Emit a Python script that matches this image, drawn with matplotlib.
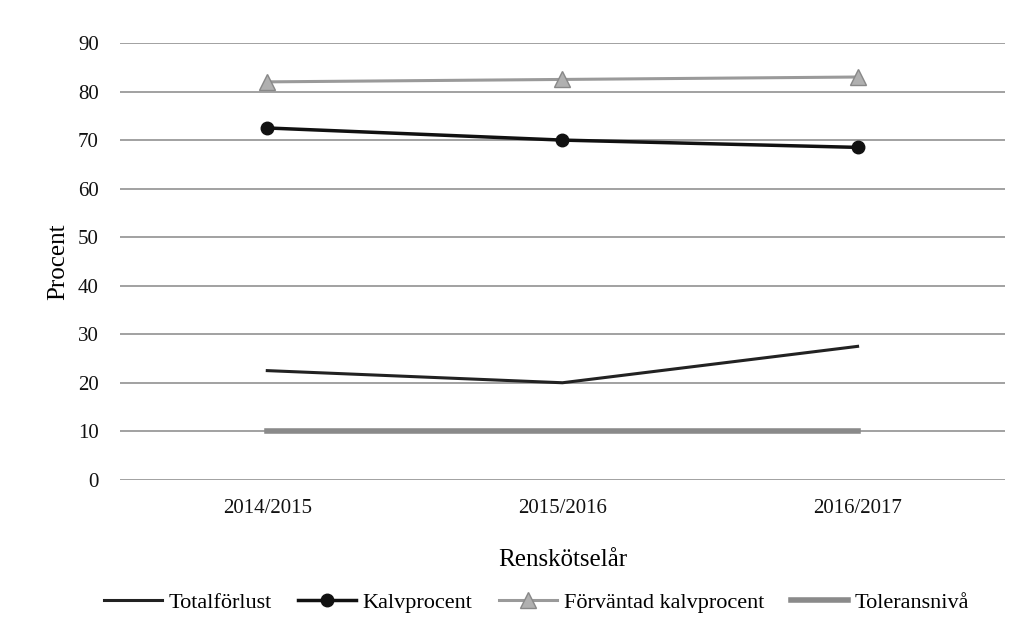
import matplotlib
matplotlib.use("Agg")
import matplotlib.pyplot as plt

plt.rcParams['font.family'] = ['Liberation Serif', 'DejaVu Serif']

years = ["2014/2015", "2015/2016", "2016/2017"]
totalforlust = [22.5, 20, 27.5]
kalvprocent = [72.5, 70, 68.5]
forvantad = [82, 82.5, 83]
tolerans = [10, 10, 10]

fig = plt.figure(figsize=(10.32, 6.33), dpi=100)
ax = fig.add_axes([0.116, 0.242, 0.858, 0.69])

x = range(len(years))
ax.plot(x, totalforlust, color="#222222", lw=2.2, label="Totalförlust")
ax.plot(x, kalvprocent, color="#111111", lw=2.5, marker="o", ms=9, label="Kalvprocent")
ax.plot(x, forvantad, color="#9a9a9a", lw=2.2, marker="^", ms=11,
        markerfacecolor="#b0b0b0", markeredgecolor="#888888", label="Förväntad kalvprocent")
ax.plot(x, tolerans, color="#8a8a8a", lw=4, label="Toleransnivå")

ax.set_xlim(-0.5, 2.5)
ax.set_ylim(0, 90)
ax.set_yticks(range(0, 91, 10))
ax.set_xticks(list(x))
ax.set_xticklabels(years)
ax.grid(axis="y", color="#9a9a9a", lw=1.3)
ax.set_axisbelow(True)
for s in ax.spines.values():
    s.set_visible(False)
ax.tick_params(length=0, labelsize=15, colors="#111111")
ax.tick_params(axis="y", pad=15)
ax.tick_params(axis="x", pad=14)
ax.set_ylabel("Procent", fontsize=18, labelpad=6)
ax.set_xlabel("Renskötselår", fontsize=18, labelpad=22)

fig.legend(loc="lower center", bbox_to_anchor=(0.52, 0.0), ncol=4, frameon=False,
           fontsize=16, handlelength=2.6, handletextpad=0.3, columnspacing=1.2)

fig.savefig("out.png", dpi=100, facecolor="white")
